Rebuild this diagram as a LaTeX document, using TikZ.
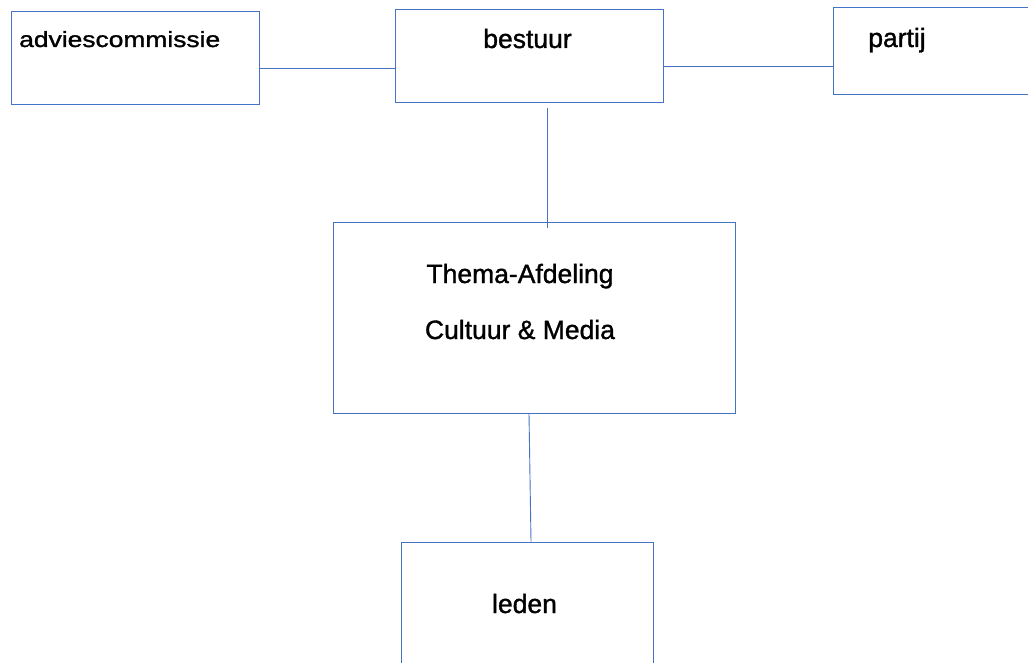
\documentclass[tikz,border=0pt]{standalone}
\usepackage{fontspec}
\setmainfont{Liberation Sans}[FakeBold=1.2]
\usetikzlibrary{positioning, calc}
\definecolor{lijnblauw}{RGB}{68,114,196}

\begin{document}
\begin{tikzpicture}[
    x=1pt, y=-1pt,
    every node/.style={font=\fontsize{26.5}{30}\selectfont}, % uniform text size
    box/.style={draw=lijnblauw, line width=0.9pt, fill=white, inner sep=0pt}, % boxes
    link/.style={lijnblauw, line width=0.9pt}, % connecting lines
    txt/.style={anchor=base, inner sep=0pt, text=black} % box labels
]
    % 0. canvas
    \useasboundingbox (0,0) rectangle (1028,663);
    \clip (0,0) rectangle (1028,663);
    \fill[white] (0,0) rectangle (1028,663);

    % 1. boxes (top row, middle, bottom)
    \node[box, minimum width=248pt, minimum height=93pt] (adv) at (135,57.5) {};
    \node[box, minimum width=268pt, minimum height=93pt] (bestuur) at (529,55.5) {};
    \node[box, minimum width=207pt, minimum height=87pt] (partij) at (936.5,50.5) {};
    \node[box, minimum width=402pt, minimum height=191pt] (thema) at (534,317.5) {};
    \node[box, minimum width=252pt, minimum height=158pt] (leden) at (527,621) {};

    % 2. labels
    \node[txt, anchor=base west, font=\fontsize{22}{26}\selectfont, xscale=1.2, transform shape] (advtxt) at (19,47) {adviescommissie};
    \node[txt] (bestuurtxt) at (527.5,48) {bestuur};
    \node[txt] (partijtxt) at (897,47) {partij};
    \node[txt] (thematxt) at (520,283) {Thema-Afdeling};
    \node[txt] (cultuurtxt) at (520,339) {Cultuur \& Media};
    \node[txt] (ledentxt) at (524.5,613) {leden};

    % 3. connectors
    \draw[link] (adv.east |- 0,68) -- (bestuur.west |- 0,68);
    \draw[link] (bestuur.east |- 0,66) -- (partij.west |- 0,66);
    \draw[link] ($(bestuur.south)+(18,6)$) -- ($(thema.north)+(13,6)$);
    \draw[link] ($(thema.south)+(-5,0)$) -- ($(leden.north)+(4,0)$);

\end{tikzpicture}
\end{document}
